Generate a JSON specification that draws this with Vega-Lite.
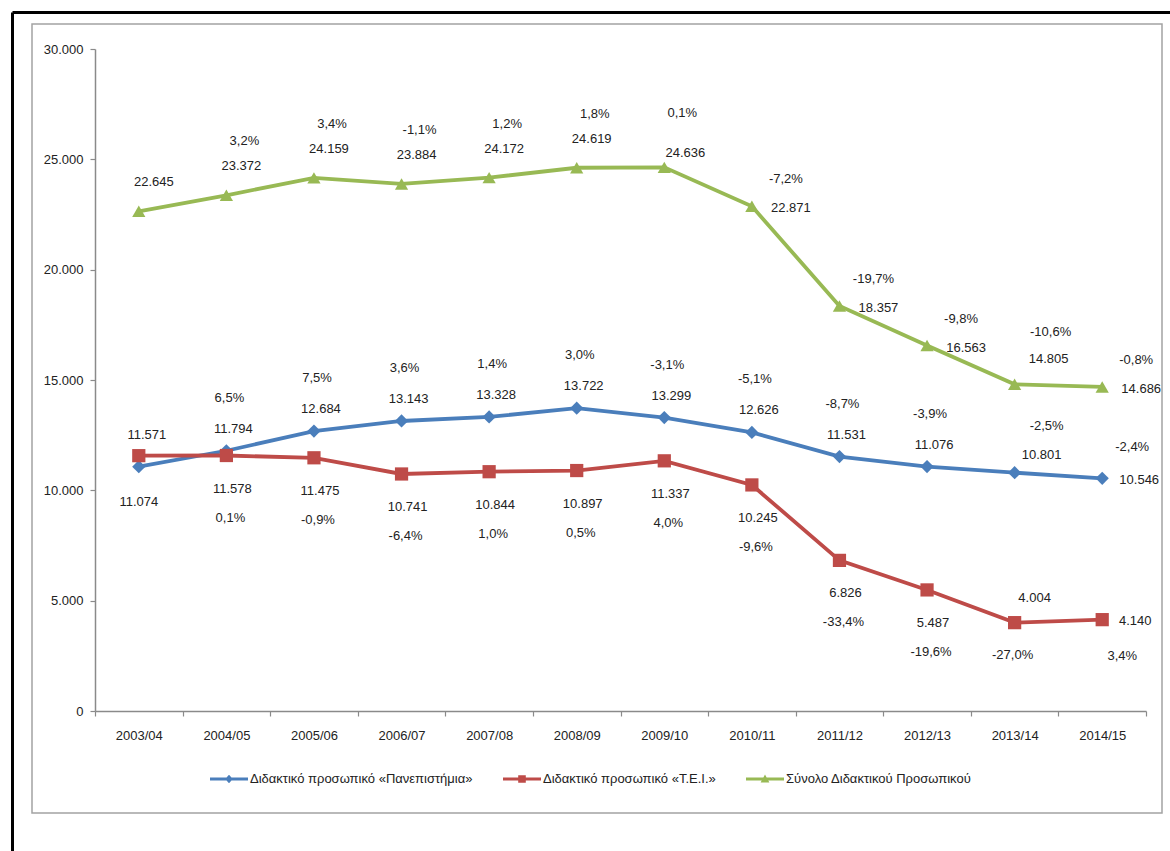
{
  "$schema": "https://vega.github.io/schema/vega-lite/v6.json",
  "width": 1130,
  "height": 789,
  "autosize": {"type": "none"},
  "padding": {"left": 32, "top": 24, "right": 8, "bottom": 38},
  "background": "white",
  "datasets": {
    "d": [
      {"year": "2003/04", "series": "Διδακτικό προσωπικό «Πανεπιστήμια»", "value": 11074, "change": null},
      {"year": "2004/05", "series": "Διδακτικό προσωπικό «Πανεπιστήμια»", "value": 11794, "change": 0.065},
      {"year": "2005/06", "series": "Διδακτικό προσωπικό «Πανεπιστήμια»", "value": 12684, "change": 0.075},
      {"year": "2006/07", "series": "Διδακτικό προσωπικό «Πανεπιστήμια»", "value": 13143, "change": 0.036},
      {"year": "2007/08", "series": "Διδακτικό προσωπικό «Πανεπιστήμια»", "value": 13328, "change": 0.014},
      {"year": "2008/09", "series": "Διδακτικό προσωπικό «Πανεπιστήμια»", "value": 13722, "change": 0.030},
      {"year": "2009/10", "series": "Διδακτικό προσωπικό «Πανεπιστήμια»", "value": 13299, "change": -0.031},
      {"year": "2010/11", "series": "Διδακτικό προσωπικό «Πανεπιστήμια»", "value": 12626, "change": -0.051},
      {"year": "2011/12", "series": "Διδακτικό προσωπικό «Πανεπιστήμια»", "value": 11531, "change": -0.087},
      {"year": "2012/13", "series": "Διδακτικό προσωπικό «Πανεπιστήμια»", "value": 11076, "change": -0.039},
      {"year": "2013/14", "series": "Διδακτικό προσωπικό «Πανεπιστήμια»", "value": 10801, "change": -0.025},
      {"year": "2014/15", "series": "Διδακτικό προσωπικό «Πανεπιστήμια»", "value": 10546, "change": -0.024},
      {"year": "2003/04", "series": "Διδακτικό προσωπικό «Τ.Ε.Ι.»", "value": 11571, "change": null},
      {"year": "2004/05", "series": "Διδακτικό προσωπικό «Τ.Ε.Ι.»", "value": 11578, "change": 0.001},
      {"year": "2005/06", "series": "Διδακτικό προσωπικό «Τ.Ε.Ι.»", "value": 11475, "change": -0.009},
      {"year": "2006/07", "series": "Διδακτικό προσωπικό «Τ.Ε.Ι.»", "value": 10741, "change": -0.064},
      {"year": "2007/08", "series": "Διδακτικό προσωπικό «Τ.Ε.Ι.»", "value": 10844, "change": 0.010},
      {"year": "2008/09", "series": "Διδακτικό προσωπικό «Τ.Ε.Ι.»", "value": 10897, "change": 0.005},
      {"year": "2009/10", "series": "Διδακτικό προσωπικό «Τ.Ε.Ι.»", "value": 11337, "change": 0.040},
      {"year": "2010/11", "series": "Διδακτικό προσωπικό «Τ.Ε.Ι.»", "value": 10245, "change": -0.096},
      {"year": "2011/12", "series": "Διδακτικό προσωπικό «Τ.Ε.Ι.»", "value": 6826, "change": -0.334},
      {"year": "2012/13", "series": "Διδακτικό προσωπικό «Τ.Ε.Ι.»", "value": 5487, "change": -0.196},
      {"year": "2013/14", "series": "Διδακτικό προσωπικό «Τ.Ε.Ι.»", "value": 4004, "change": -0.270},
      {"year": "2014/15", "series": "Διδακτικό προσωπικό «Τ.Ε.Ι.»", "value": 4140, "change": 0.034},
      {"year": "2003/04", "series": "Σύνολο Διδακτικού Προσωπικού", "value": 22645, "change": null},
      {"year": "2004/05", "series": "Σύνολο Διδακτικού Προσωπικού", "value": 23372, "change": 0.032},
      {"year": "2005/06", "series": "Σύνολο Διδακτικού Προσωπικού", "value": 24159, "change": 0.034},
      {"year": "2006/07", "series": "Σύνολο Διδακτικού Προσωπικού", "value": 23884, "change": -0.011},
      {"year": "2007/08", "series": "Σύνολο Διδακτικού Προσωπικού", "value": 24172, "change": 0.012},
      {"year": "2008/09", "series": "Σύνολο Διδακτικού Προσωπικού", "value": 24619, "change": 0.018},
      {"year": "2009/10", "series": "Σύνολο Διδακτικού Προσωπικού", "value": 24636, "change": 0.001},
      {"year": "2010/11", "series": "Σύνολο Διδακτικού Προσωπικού", "value": 22871, "change": -0.072},
      {"year": "2011/12", "series": "Σύνολο Διδακτικού Προσωπικού", "value": 18357, "change": -0.197},
      {"year": "2012/13", "series": "Σύνολο Διδακτικού Προσωπικού", "value": 16563, "change": -0.098},
      {"year": "2013/14", "series": "Σύνολο Διδακτικού Προσωπικού", "value": 14805, "change": -0.106},
      {"year": "2014/15", "series": "Σύνολο Διδακτικού Προσωπικού", "value": 14686, "change": -0.008}
    ]
  },
  "data": {"name": "d"},
  "config": {
    "locale": {"number": {"decimal": ",", "thousands": ".", "grouping": [3], "currency": ["", " €"], "minus": "-"}},
    "view": {"stroke": "#a3a3a3", "strokeWidth": 1.5},
    "font": "Liberation Sans",
    "text": {"font": "Liberation Sans", "fontSize": 13, "fill": "#222222", "baseline": "middle", "align": "center"},
    "axis": {"grid": false, "title": null, "labelFont": "Liberation Sans", "labelFontSize": 13, "labelColor": "#222222", "domainColor": "#8a8a8a", "tickColor": "#8a8a8a", "domainWidth": 1.5, "tickWidth": 1.2, "tickSize": 5}
  },
  "resolve": {"scale": {"x": "independent", "y": "independent"}, "axis": {"x": "independent", "y": "independent"}},
  "layer": [
    {
      "encoding": {
        "x": {"field": "year", "type": "ordinal", "scale": {"range": [63, 1114], "paddingInner": 0, "paddingOuter": 0},
          "axis": {"orient": "bottom", "offset": -102, "labelAngle": 0, "tickBand": "extent", "labelPadding": 13}},
        "y": {"field": "value", "type": "quantitative", "scale": {"domain": [0, 30000], "range": [687, 25], "nice": false},
          "axis": {"orient": "left", "offset": -63, "values": [0, 5000, 10000, 15000, 20000, 25000, 30000], "format": ",d", "labelPadding": 7}}
      },
      "layer": [
        {"mark": {"type": "line", "strokeWidth": 3.8},
         "encoding": {"stroke": {"field": "series", "type": "nominal", "legend": null,
           "scale": {"range": ["#4a7ebb", "#be4b48", "#98b954"]}}}},
        {"mark": {"type": "point", "filled": true, "size": 175, "opacity": 1},
         "encoding": {
           "shape": {"field": "series", "type": "nominal", "legend": null,
             "scale": {"range": ["diamond", "square", "triangle-up"]}},
           "color": {"field": "series", "type": "nominal",
             "scale": {"domain": ["Διδακτικό προσωπικό «Πανεπιστήμια»", "Διδακτικό προσωπικό «Τ.Ε.Ι.»", "Σύνολο Διδακτικού Προσωπικού"], "range": ["#4a7ebb", "#be4b48", "#98b954"]},
             "legend": {"orient": "none", "legendX": 178, "legendY": 736, "direction": "horizontal", "title": null,
               "symbolType": "M-1,-0.075H1V0.075H-1Z M0,-0.22L0.2,0L0,0.22L-0.2,0Z", "symbolSize": 1444, "symbolStrokeWidth": 0, "symbolOpacity": 1,
               "labelFontSize": 13, "labelFont": "Liberation Sans", "labelColor": "#222222", "labelLimit": 0, "columnPadding": 30, "labelOffset": 2,
               "encode": {"symbols": {"update": {
                 "shape": {"signal": "datum.value === 'Διδακτικό προσωπικό «Τ.Ε.Ι.»' ? 'M-1,-0.075H1V0.075H-1Z M-0.2,-0.2H0.2V0.2H-0.2Z' : datum.value === 'Σύνολο Διδακτικού Προσωπικού' ? 'M-1,-0.075H1V0.075H-1Z M0,-0.24L0.23,0.18H-0.23Z' : 'M-1,-0.075H1V0.075H-1Z M0,-0.22L0.2,0L0,0.22L-0.2,0Z'"},
                 "size": {"value": 1444},
                 "opacity": {"value": 1},
                 "strokeWidth": {"value": 0}}}}}}
         }},

        {"transform": [{"filter": {"and": [{"field": "series", "equal": "Σύνολο Διδακτικού Προσωπικού"}, {"field": "year", "oneOf": ["2003/04", "2004/05", "2005/06", "2006/07", "2007/08", "2008/09"]}]}}],
         "mark": {"type": "text", "dx": 15, "dy": -29}, "encoding": {"text": {"field": "value", "type": "quantitative", "format": ",d"}}},
        {"transform": [{"filter": {"and": [{"field": "series", "equal": "Σύνολο Διδακτικού Προσωπικού"}, {"field": "year", "oneOf": ["2009/10"]}]}}],
         "mark": {"type": "text", "dx": 21, "dy": -14}, "encoding": {"text": {"field": "value", "type": "quantitative", "format": ",d"}}},
        {"transform": [{"filter": {"and": [{"field": "series", "equal": "Σύνολο Διδακτικού Προσωπικού"}, {"field": "year", "oneOf": ["2010/11", "2011/12", "2012/13", "2014/15"]}]}}],
         "mark": {"type": "text", "dx": 39, "dy": 2}, "encoding": {"text": {"field": "value", "type": "quantitative", "format": ",d"}}},
        {"transform": [{"filter": {"and": [{"field": "series", "equal": "Σύνολο Διδακτικού Προσωπικού"}, {"field": "year", "oneOf": ["2013/14"]}]}}],
         "mark": {"type": "text", "dx": 34, "dy": -25}, "encoding": {"text": {"field": "value", "type": "quantitative", "format": ",d"}}},
        {"transform": [{"filter": {"and": [{"field": "series", "equal": "Σύνολο Διδακτικού Προσωπικού"}, {"field": "year", "oneOf": ["2004/05", "2005/06", "2006/07", "2007/08", "2008/09", "2009/10"]}]}}],
         "mark": {"type": "text", "dx": 18, "dy": -54}, "encoding": {"text": {"field": "change", "type": "quantitative", "format": ".1%"}}},
        {"transform": [{"filter": {"and": [{"field": "series", "equal": "Σύνολο Διδακτικού Προσωπικού"}, {"field": "year", "oneOf": ["2010/11", "2011/12", "2012/13", "2014/15"]}]}}],
         "mark": {"type": "text", "dx": 34, "dy": -27}, "encoding": {"text": {"field": "change", "type": "quantitative", "format": ".1%"}}},
        {"transform": [{"filter": {"and": [{"field": "series", "equal": "Σύνολο Διδακτικού Προσωπικού"}, {"field": "year", "oneOf": ["2013/14"]}]}}],
         "mark": {"type": "text", "dx": 36, "dy": -52}, "encoding": {"text": {"field": "change", "type": "quantitative", "format": ".1%"}}},

        {"transform": [{"filter": {"and": [{"field": "series", "equal": "Διδακτικό προσωπικό «Πανεπιστήμια»"}, {"field": "year", "oneOf": ["2004/05", "2005/06", "2006/07", "2007/08", "2008/09", "2009/10", "2010/11", "2011/12", "2012/13"]}]}}],
         "mark": {"type": "text", "dx": 7, "dy": -22}, "encoding": {"text": {"field": "value", "type": "quantitative", "format": ",d"}}},
        {"transform": [{"filter": {"and": [{"field": "series", "equal": "Διδακτικό προσωπικό «Πανεπιστήμια»"}, {"field": "year", "oneOf": ["2003/04"]}]}}],
         "mark": {"type": "text", "dx": 0, "dy": 35}, "encoding": {"text": {"field": "value", "type": "quantitative", "format": ",d"}}},
        {"transform": [{"filter": {"and": [{"field": "series", "equal": "Διδακτικό προσωπικό «Πανεπιστήμια»"}, {"field": "year", "oneOf": ["2013/14"]}]}}],
         "mark": {"type": "text", "dx": 27, "dy": -18}, "encoding": {"text": {"field": "value", "type": "quantitative", "format": ",d"}}},
        {"transform": [{"filter": {"and": [{"field": "series", "equal": "Διδακτικό προσωπικό «Πανεπιστήμια»"}, {"field": "year", "oneOf": ["2014/15"]}]}}],
         "mark": {"type": "text", "dx": 37, "dy": 2}, "encoding": {"text": {"field": "value", "type": "quantitative", "format": ",d"}}},
        {"transform": [{"filter": {"and": [{"field": "series", "equal": "Διδακτικό προσωπικό «Πανεπιστήμια»"}, {"field": "year", "oneOf": ["2004/05", "2005/06", "2006/07", "2007/08", "2008/09", "2009/10", "2010/11", "2011/12", "2012/13"]}]}}],
         "mark": {"type": "text", "dx": 3, "dy": -53}, "encoding": {"text": {"field": "change", "type": "quantitative", "format": ".1%"}}},
        {"transform": [{"filter": {"and": [{"field": "series", "equal": "Διδακτικό προσωπικό «Πανεπιστήμια»"}, {"field": "year", "oneOf": ["2013/14"]}]}}],
         "mark": {"type": "text", "dx": 32, "dy": -47}, "encoding": {"text": {"field": "change", "type": "quantitative", "format": ".1%"}}},
        {"transform": [{"filter": {"and": [{"field": "series", "equal": "Διδακτικό προσωπικό «Πανεπιστήμια»"}, {"field": "year", "oneOf": ["2014/15"]}]}}],
         "mark": {"type": "text", "dx": 30, "dy": -31}, "encoding": {"text": {"field": "change", "type": "quantitative", "format": ".1%"}}},

        {"transform": [{"filter": {"and": [{"field": "series", "equal": "Διδακτικό προσωπικό «Τ.Ε.Ι.»"}, {"field": "year", "oneOf": ["2004/05", "2005/06", "2006/07", "2007/08", "2008/09", "2009/10", "2010/11", "2011/12", "2012/13"]}]}}],
         "mark": {"type": "text", "dx": 6, "dy": 33}, "encoding": {"text": {"field": "value", "type": "quantitative", "format": ",d"}}},
        {"transform": [{"filter": {"and": [{"field": "series", "equal": "Διδακτικό προσωπικό «Τ.Ε.Ι.»"}, {"field": "year", "oneOf": ["2003/04"]}]}}],
         "mark": {"type": "text", "dx": 8, "dy": -21}, "encoding": {"text": {"field": "value", "type": "quantitative", "format": ",d"}}},
        {"transform": [{"filter": {"and": [{"field": "series", "equal": "Διδακτικό προσωπικό «Τ.Ε.Ι.»"}, {"field": "year", "oneOf": ["2013/14"]}]}}],
         "mark": {"type": "text", "dx": 20, "dy": -25}, "encoding": {"text": {"field": "value", "type": "quantitative", "format": ",d"}}},
        {"transform": [{"filter": {"and": [{"field": "series", "equal": "Διδακτικό προσωπικό «Τ.Ε.Ι.»"}, {"field": "year", "oneOf": ["2014/15"]}]}}],
         "mark": {"type": "text", "dx": 33, "dy": 1}, "encoding": {"text": {"field": "value", "type": "quantitative", "format": ",d"}}},
        {"transform": [{"filter": {"and": [{"field": "series", "equal": "Διδακτικό προσωπικό «Τ.Ε.Ι.»"}, {"field": "year", "oneOf": ["2004/05", "2005/06", "2006/07", "2007/08", "2008/09", "2009/10", "2010/11", "2011/12", "2012/13"]}]}}],
         "mark": {"type": "text", "dx": 4, "dy": 62}, "encoding": {"text": {"field": "change", "type": "quantitative", "format": ".1%"}}},
        {"transform": [{"filter": {"and": [{"field": "series", "equal": "Διδακτικό προσωπικό «Τ.Ε.Ι.»"}, {"field": "year", "oneOf": ["2013/14"]}]}}],
         "mark": {"type": "text", "dx": -2, "dy": 32}, "encoding": {"text": {"field": "change", "type": "quantitative", "format": ".1%"}}},
        {"transform": [{"filter": {"and": [{"field": "series", "equal": "Διδακτικό προσωπικό «Τ.Ε.Ι.»"}, {"field": "year", "oneOf": ["2014/15"]}]}}],
         "mark": {"type": "text", "dx": 20, "dy": 36}, "encoding": {"text": {"field": "change", "type": "quantitative", "format": ".1%"}}}
      ]
    },
    {
      "transform": [{"filter": "false"}],
      "mark": {"type": "point"},
      "encoding": {
        "x": {"field": "value", "type": "quantitative", "scale": {"domain": [0, 1], "range": [-20, 1160], "nice": false, "zero": false},
          "axis": {"orient": "top", "offset": 12, "domainColor": "#000000", "domainWidth": 3, "ticks": false, "labels": false, "grid": false, "title": null}},
        "y": {"field": "value", "type": "quantitative", "scale": {"domain": [0, 1], "range": [900, -12], "nice": false, "zero": false},
          "axis": {"orient": "left", "offset": 20, "domainColor": "#000000", "domainWidth": 3, "ticks": false, "labels": false, "grid": false, "title": null}}
      }
    }
  ]
}
